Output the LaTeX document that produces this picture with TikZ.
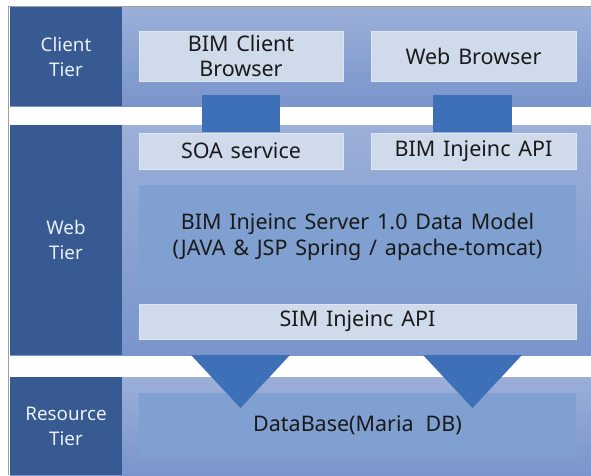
\documentclass[tikz,border=0pt]{standalone}
\usepackage{fontspec}
\setmainfont[WordSpace=1.4]{Noto Sans}
\usetikzlibrary{calc}

\definecolor{tierdark}{HTML}{365A91}
\definecolor{bandtop}{HTML}{9BAFD8}
\definecolor{bandbot}{HTML}{7A95CC}
\definecolor{lightbox}{HTML}{CFDAEB}
\definecolor{innerbox}{HTML}{7FA0D0}
\definecolor{connblue}{HTML}{3E70B7}
\definecolor{inktext}{HTML}{1A1A1A}
\definecolor{tiertext}{HTML}{EAF0F8}
\definecolor{rimgray}{HTML}{A0A0A0}

\tikzset{
  tiercol/.style={fill=tierdark, draw=none, inner sep=0pt, text=tiertext,
    align=center, font=\fontsize{18.8}{25}\selectfont},
  lbox/.style={fill=lightbox, draw=lightbox!70!white, line width=0.6pt, inner sep=0pt,
    text=inktext, align=center, font=\fontsize{21.5}{25}\selectfont},
  ibox/.style={fill=innerbox, draw=none, inner sep=0pt,
    text=inktext, align=center, font=\fontsize{21.5}{26}\selectfont},
  connsq/.style={fill=connblue, draw=none, inner sep=0pt},
}

\begin{document}
\begin{tikzpicture}[x=1pt, y=-1pt]
\useasboundingbox (0,0) rectangle (591,475);
\fill[white] (0,0) rectangle (591,475);

% tier bands with soft vertical shading
\shade[top color=bandtop, bottom color=bandbot] (10,7) rectangle (591,106);
\shade[top color=bandtop, bottom color=bandbot] (10,125) rectangle (591,355);
\shade[top color=bandtop, bottom color=bandbot] (10,377) rectangle (591,475);

% frame lines
\draw[rimgray, line width=0.8pt] (8,6) -- (591,6);
\draw[rimgray, line width=0.8pt] (8,6) -- (8,475);

% tier name columns
\node[tiercol, minimum width=112, minimum height=99] (ct) at (66,56.5) {Client\\Tier};
\node[tiercol, minimum width=112, minimum height=230] (wt) at (66,240) {Web\\Tier};
\node[tiercol, minimum width=112, minimum height=98] (rt) at (66,426) {Resource\\Tier};

% client tier
\node[lbox, minimum width=204, minimum height=50] (bcb) at (241,56) {BIM Client\\Browser};
\node[lbox, minimum width=205, minimum height=50] (wb) at (473.5,56) {Web Browser};

% web tier
\node[lbox, minimum width=204, minimum height=36] (soa) at (241,151) {SOA service};
\node[lbox, minimum width=205, minimum height=36] (api) at (473.5,151) {BIM Injeinc API};
\node[ibox, minimum width=437, minimum height=104] (dm) at (357.5,237)
  {BIM Injeinc Server 1.0 Data Model\\(JAVA \& JSP Spring / apache-tomcat)};
\node[lbox, minimum width=437, minimum height=35] (sim) at (357.5,321.5) {SIM Injeinc API};

% resource tier
\node[ibox, minimum width=437, minimum height=65] (db) at (357.5,425.5) {DataBase(Maria\hspace{12pt}DB)};

% links between client and web tier
\node[connsq, minimum width=78, minimum height=37] (lk1) at (241,113.5) {};
\node[connsq, minimum width=79, minimum height=37] (lk2) at (472.5,113.5) {};

% arrows from web tier down to the database
\fill[connblue] (191,355) -- (290,355) -- (240.5,408) -- cycle;
\fill[connblue] (423,355) -- (522,355) -- (472.5,408) -- cycle;
\end{tikzpicture}
\end{document}
